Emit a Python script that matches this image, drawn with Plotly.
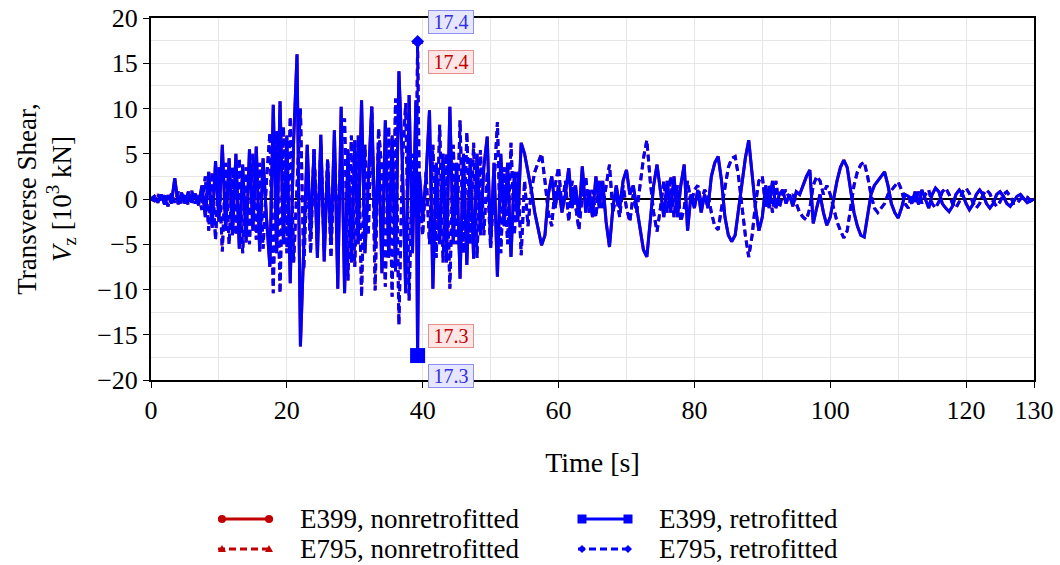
import plotly.graph_objects as go

# ---------------- data (values in 10^3 kN) ----------------
time_s = [
    0.0,
    0.5, 1.0, 1.5, 2.0, 2.5, 3.0, 3.5, 4.0, 4.5, 5.0,
    5.5, 6.0, 6.5, 7.0, 7.5, 8.0, 8.5, 9.0, 9.5, 10.0,
    10.5, 11.0, 11.5, 12.0, 12.5, 13.0, 13.5, 14.0, 14.5, 15.0,
    15.5, 16.0, 16.5, 17.0, 17.5, 18.0, 18.5, 19.0, 19.5, 20.0,
    20.5, 21.0, 21.5, 22.0, 22.5, 23.0, 23.5, 24.0, 24.5, 25.0,
    25.5, 26.0, 26.5, 27.0, 27.5, 28.0, 28.5, 29.0, 29.5, 30.0,
    30.5, 31.0, 31.5, 32.0, 32.5, 33.0, 33.5, 34.0, 34.5, 35.0,
    35.5, 36.0, 36.5, 37.0, 37.5, 38.0, 38.5, 39.0, 39.25, 39.5, 40.0,
    40.5, 41.0, 41.5, 42.0, 42.5, 43.0, 43.5, 44.0, 44.5, 45.0,
    45.5, 46.0, 46.5, 47.0, 47.5, 48.0, 48.5, 49.0, 49.5, 50.0,
    50.5, 51.0, 51.5, 52.0, 52.5, 53.0, 53.5, 54.0, 54.5, 55.0,
    55.5, 56.0, 56.5, 57.0, 57.5, 58.0, 58.5, 59.0, 59.5, 60.0,
    60.5, 61.0, 61.5, 62.0, 62.5, 63.0, 63.5, 64.0, 64.5, 65.0,
    65.5, 66.0, 66.5, 67.0, 67.5, 68.0, 68.5, 69.0, 69.5, 70.0,
    70.5, 71.0, 71.5, 72.0, 72.5, 73.0, 73.5, 74.0, 74.5, 75.0,
    75.5, 76.0, 76.5, 77.0, 77.5, 78.0, 78.5, 79.0, 79.5, 80.0,
    80.5, 81.0, 81.5, 82.0, 82.5, 83.0, 83.5, 84.0, 84.5, 85.0,
    85.5, 86.0, 86.5, 87.0, 87.5, 88.0, 88.5, 89.0, 89.5, 90.0,
    90.5, 91.0, 91.5, 92.0, 92.5, 93.0, 93.5, 94.0, 94.5, 95.0,
    95.5, 96.0, 96.5, 97.0, 97.5, 98.0, 98.5, 99.0, 99.5, 100.0,
    100.5, 101.0, 101.5, 102.0, 102.5, 103.0, 103.5, 104.0, 104.5, 105.0,
    105.5, 106.0, 106.5, 107.0, 107.5, 108.0, 108.5, 109.0, 109.5, 110.0,
    110.5, 111.0, 111.5, 112.0, 112.5, 113.0, 113.5, 114.0, 114.5, 115.0,
    115.5, 116.0, 116.5, 117.0, 117.5, 118.0, 118.5, 119.0, 119.5, 120.0,
    120.5, 121.0, 121.5, 122.0, 122.5, 123.0, 123.5, 124.0, 124.5, 125.0,
    125.5, 126.0, 126.5, 127.0, 127.5, 128.0, 128.5, 129.0, 129.5, 130.0,
]

e399_retro = [
    0.0,
    0.3, -0.4, 0.5, -0.6, 0.4, -0.5, 2.3, -0.6, 0.7, -0.5,
    0.8, -0.4, 0.6, -0.7, 1.5, -2.0, 3.0, -3.2, 4.2, -2.5,
    6.0, -3.5, 4.5, -4.0, 5.0, -5.5, 3.8, -4.8, 5.5, -3.5,
    5.8, -5.8, 4.5, -2.0, -7.5, 10.4, -6.0, 10.8, -5.0, 7.0,
    -9.3, 6.5, 16.0, -16.3, -5.5, 6.0, -4.0, 5.5, -6.5, 7.1,
    -6.9, 4.0, -5.0, 7.6, -9.9, 10.2, -10.4, 5.5, -7.0, 6.5,
    -5.0, 10.9, -6.0, 2.0, 10.2, -5.0, 6.0, -8.2, 8.7, -6.5,
    7.0, -8.0, 14.1, 4.0, -10.4, 11.5, -6.0, 10.9, -17.3, 3.0, -2.0,
    2.5, 9.8, -9.9, 4.0, -5.0, 5.0, -7.0, 10.2, -5.0, 4.0,
    -8.8, 5.0, -7.3, 4.5, -6.6, 5.0, -4.0, 3.5, 6.9, -5.0,
    4.0, -8.6, 5.0, -3.0, 4.0, -6.4, 3.0, -2.5, 6.2, 5.0,
    3.0, 1.0, -1.5, -3.5, -5.1, -4.0, 0.5, 2.5, -1.0, 1.5,
    -1.5, 0.5, 3.4, -1.0, 1.5, -2.0, 3.6, -1.5, 1.0, -2.0,
    2.5, -1.0, 2.0, -2.5, -5.3, -1.0, 1.5, -1.0, 2.0, 3.2,
    0.5, 1.5, -1.0, -3.0, -5.6, -6.4, -2.0, 1.5, 3.8, 1.0,
    -2.0, 2.0, -1.5, 2.5, -2.0, 1.5, 3.8, -3.5, 0.5, -1.0,
    1.0, -1.5, 0.5, -1.0, 2.5, 4.0, 4.7, 2.0, -2.0, -4.0,
    -4.7, -4.0, -1.0, 2.0, 4.5, 6.5, 3.0, -1.0, -3.5, -2.0,
    1.5, -1.0, 2.0, -1.0, 0.5, 1.0, -0.5, 0.5, -0.8, 0.8,
    0.5, 1.5, 2.5, 3.2, -2.7, -1.0, 0.5, -1.5, -2.9, -2.0,
    0.0, 2.0, 3.5, 4.3, 3.5, 1.0, -1.5, -3.0, -4.0, -4.2,
    -2.0, 0.5, 1.5, 2.0, 2.5, 3.0, 1.5, -0.5, -1.5, -2.1,
    -1.0, 0.5, 0.3, -0.5, 0.8, -0.6, 1.0, 0.0, -1.0, 0.5,
    1.2, 0.8, -0.5, -1.0, -1.4, -0.8, 0.5, 1.0, 0.5, -0.5,
    -1.2, -0.6, 0.5, 1.0, 0.5, -0.5, -1.0, -0.5, 0.5, 0.8,
    0.3, -0.5, -0.8, -0.3, 0.3, 0.5, 0.0, -0.4, -0.2, 0.0,
]

e795_retro = [
    0.0,
    -0.2, 0.5, -0.3, 0.4, -0.8, 0.6, -0.4, 0.8, -0.6, 0.5,
    -0.7, 0.9, -0.5, 0.4, -1.2, 2.5, -3.5, 3.0, -4.5, 3.5,
    -5.8, 4.0, -5.0, 3.5, -4.0, 4.5, -6.0, 3.5, -5.0, 5.0,
    -4.5, 4.0, -5.5, 2.0, 7.3, -10.4, 7.5, -10.4, 8.0, -6.0,
    9.1, -7.0, 2.0, 10.0, -7.8, 4.0, -6.0, 5.5, -4.5, 6.0,
    -5.5, 4.5, -6.5, 5.0, -4.0, 6.0, 8.9, -9.0, 7.0, -7.5,
    7.0, -10.8, 6.0, -4.0, 10.2, -10.1, 7.8, 3.0, -9.7, 8.0,
    -10.8, 11.1, -13.9, 4.0, 10.6, -11.2, 5.0, -2.0, 17.4, 1.0, -4.0,
    3.0, -5.0, 6.0, -6.5, 8.2, -7.0, 5.0, -9.9, 6.0, -5.0,
    8.7, -6.0, 7.4, -5.0, 6.2, -6.5, 5.4, -4.0, 3.0, -5.5,
    2.0, 8.5, -6.0, 3.5, -5.0, 6.2, -4.0, 3.0, -6.2, 2.0,
    -3.0, 1.0, 3.0, 4.0, 5.0, 2.0, -1.5, -3.0, 1.5, 3.5,
    -1.0, 2.0, -2.5, 2.0, -1.0, -3.4, 0.5, 2.5, -1.5, 1.0,
    -2.0, 2.0, -1.0, 1.5, 3.8, -1.5, 0.5, -2.0, 1.5, -1.0,
    -2.5, 0.5, -1.5, 1.5, 4.5, 6.5, 2.0, -1.5, -3.6, -1.0,
    2.0, -1.5, 2.5, -2.0, 1.5, -2.5, -1.0, 2.0, -0.5, 1.0,
    1.5, -0.5, 1.0, 0.5, -1.5, -3.0, -3.4, -1.0, 1.5, 3.5,
    4.5, 4.7, 2.5, -1.0, -4.0, -6.4, -4.0, -0.5, 2.0, 2.5,
    -1.0, 1.5, -1.5, 2.0, -1.0, 0.5, 1.0, 0.0, 0.5, -0.5,
    -1.5, -2.0, -2.3, -1.0, 1.5, 2.5, 2.0, 0.5, 1.5, 0.5,
    -1.0, -2.5, -3.5, -4.3, -3.5, -1.0, 1.5, 3.0, 3.8, 4.1,
    2.5, 0.5, -1.0, -1.5, -1.0, -0.5, 0.5, 1.0, 1.5, 1.9,
    1.0, -0.5, -1.0, 0.5, -0.3, 0.8, -0.5, 0.5, 1.0, -0.5,
    -1.0, -0.3, 0.8, 1.2, 0.5, -0.5, -1.0, -0.3, 0.8, 1.2,
    0.6, -0.4, -1.0, -0.5, 0.5, 1.0, 0.6, -0.3, -0.8, -0.3,
    0.5, 0.8, 0.3, -0.5, -0.5, 0.0, 0.3, 0.2, -0.2, 0.0,
]

# the nonretrofitted responses lie underneath the retrofitted ones
e399_nonretro = list(e399_retro)
e795_nonretro = list(e795_retro)

x_ticks = [0, 20, 40, 60, 80, 100, 120, 130]
y_ticks = [-20, -15, -10, -5, 0, 5, 10, 15, 20]

# ---------------- styling ----------------
RED = "#c00000"
BLUE = "#0000ff"
FONT = "Liberation Serif"
DASH = "7px,4px"

series = [
    dict(name="E399, nonretrofitted", y=e399_nonretro, color=RED, dash="solid",
         symbol="circle", msize=9, lab_shift=20, lab_bg="#fde6e6", lab_bd="#e89090", lab_fc=RED),
    dict(name="E795, nonretrofitted", y=e795_nonretro, color=RED, dash=DASH,
         symbol="triangle-up", msize=10, lab_shift=-20, lab_bg="#fde6e6", lab_bd="#e89090", lab_fc=RED),
    dict(name="E399, retrofitted", y=e399_retro, color=BLUE, dash="solid",
         symbol="square", msize=15, lab_shift=-20, lab_bg="#e6e6ff", lab_bd="#9090f0", lab_fc="#3030e0"),
    dict(name="E795, retrofitted", y=e795_retro, color=BLUE, dash=DASH,
         symbol="diamond", msize=10, lab_shift=20, lab_bg="#e6e6ff", lab_bd="#9090f0", lab_fc="#3030e0"),
]

fig = go.Figure()
annotations = []
for s in series:
    fig.add_trace(go.Scatter(x=time_s, y=s["y"], mode="lines", showlegend=False,
                             line=dict(color=s["color"], width=3, dash=s["dash"])))
    ipk = max(range(len(s["y"])), key=lambda i: abs(s["y"][i]))
    fig.add_trace(go.Scatter(x=[time_s[ipk]], y=[s["y"][ipk]], mode="markers", showlegend=False,
                             marker=dict(color=s["color"], size=s["msize"], symbol=s["symbol"],
                                         line=dict(width=0)), cliponaxis=False))
    annotations.append(dict(x=time_s[ipk], y=s["y"][ipk], xref="x", yref="y",
                            text=f"{abs(s['y'][ipk]):.1f}", showarrow=False,
                            xanchor="left", yanchor="middle", xshift=10, yshift=s["lab_shift"],
                            font=dict(family=FONT, size=20, color=s["lab_fc"]),
                            bgcolor=s["lab_bg"], bordercolor=s["lab_bd"], borderwidth=1,
                            borderpad=1, width=42, height=20))

# ---------------- custom legend (paper coordinates from pixel layout) ----------------
L, R, T, B = 151, 1034, 18, 380
def px_x(p):
    return (p - L) / (R - L)
def px_y(p):
    return (B - p) / (B - T)

shapes = []
legend_rows = [
    (series[0], 218, 273, 519), (series[1], 218, 273, 549),
    (series[2], 578, 632, 519), (series[3], 578, 632, 549),
]
for s, x0, x1, yy in legend_rows:
    shapes.append(dict(type="line", xref="paper", yref="paper", x0=px_x(x0), x1=px_x(x1),
                       y0=px_y(yy), y1=px_y(yy),
                       line=dict(color=s["color"], width=3, dash=s["dash"])))
    for xm in (x0 + 4, x1 - 4):
        base = dict(xref="paper", yref="paper", xsizemode="pixel", ysizemode="pixel",
                    xanchor=px_x(xm), yanchor=px_y(yy), fillcolor=s["color"],
                    line=dict(width=0))
        if s["symbol"] == "circle":
            shapes.append(dict(type="circle", x0=-4, x1=4, y0=-4, y1=4, **base))
        elif s["symbol"] == "square":
            shapes.append(dict(type="rect", x0=-4.5, x1=4.5, y0=-4.5, y1=4.5, **base))
        elif s["symbol"] == "triangle-up":
            shapes.append(dict(type="path", path="M -4,-3 L 4,-3 L 0,4 Z", **base))
        else:
            shapes.append(dict(type="path", path="M -4,0 L 0,4 L 4,0 L 0,-4 Z", **base))
    annotations.append(dict(x=px_x(x1 + 25), y=px_y(yy), xref="paper", yref="paper",
                            text=s["name"], showarrow=False, xanchor="left", yanchor="middle",
                            font=dict(family=FONT, size=27, color="black")))

fig.update_layout(
    width=1060, height=565,
    margin=dict(l=L, r=1060 - R, t=T, b=565 - B, autoexpand=False),
    paper_bgcolor="white", plot_bgcolor="white",
    font=dict(family=FONT, size=26, color="black"),
    showlegend=False,
    shapes=shapes,
    annotations=annotations,
    xaxis=dict(
        range=[0, 130], tickvals=x_ticks, ticktext=[str(v) for v in x_ticks],
        ticks="outside", ticklen=6, tickwidth=1.2, tickcolor="black",
        showline=True, linecolor="black", linewidth=2, mirror=True,
        showgrid=True, gridcolor="#e6e6e6", gridwidth=1, zeroline=False,
        minor=dict(dtick=10, tick0=0, showgrid=True, gridcolor="#e6e6e6", gridwidth=1),
        tickfont=dict(family=FONT, size=26),
        title=dict(text="Time [s]", font=dict(family=FONT, size=28), standoff=28),
    ),
    yaxis=dict(
        range=[-20, 20], tickvals=y_ticks,
        ticks="outside", ticklen=6, tickwidth=1.2, tickcolor="black",
        showline=True, linecolor="black", linewidth=2, mirror=True,
        showgrid=True, gridcolor="#e6e6e6", gridwidth=1,
        zeroline=True, zerolinecolor="black", zerolinewidth=2,
        minor=dict(dtick=2.5, tick0=0, showgrid=True, gridcolor="#e6e6e6", gridwidth=1),
        tickfont=dict(family=FONT, size=26),
        title=dict(text="Transverse Shear,<br><i>V</i><sub>z</sub> [10<sup>3</sup> kN]",
                   font=dict(family=FONT, size=27), standoff=18),
    ),
)

fig.write_html("out.html")
